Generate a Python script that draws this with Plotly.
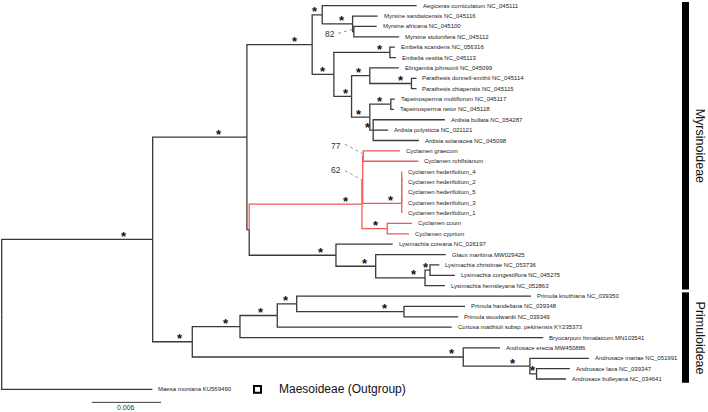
import plotly.graph_objects as go

# ---------------- data ----------------
NODE_IDS = [
    "root", "Ingroup", "Myr", "MyrA", "AegM",
    "Aegiceras corniculatum NC_045111", "Myrsine",
    "Myrsine sandwicensis NC_045116", "M82",
    "Myrsine africana NC_045100", "Myrsine stolonifera NC_045112",
    "B", "Embelia", "Embelia scandens NC_056316", "Embelia vestita NC_045113",
    "C", "D", "Elingamita johnsonii NC_045099", "Parathesis",
    "Parathesis donnell-smithii NC_045114", "Parathesis chiapensis NC_045115",
    "E", "Tapeinosperma", "Tapeinosperma multiflorum NC_045117", "Tapeinosperma netor NC_045118",
    "Ardisia", "Ardisia bullata NC_054287", "Ardisia polysticta NC_021121", "Ardisia solanacea NC_045098",
    "LC", "Cyclamen", "C62", "C77", "Cyclamen graecum", "Cyclamen rohlfsianum",
    "Hed", "H3", "H2", "H1",
    "Cyclamen hederifolium_4", "Cyclamen hederifolium_2", "Cyclamen hederifolium_5",
    "Cyclamen hederifolium_3", "Cyclamen hederifolium_1",
    "Ccc", "Cyclamen coum", "Cyclamen cyprium",
    "Lys", "Lysimachia coreana NC_026197", "GL", "Glaux maritima MW029425",
    "L3", "LCC", "Lysimachia christinae NC_053736", "Lysimachia congestiflora NC_045275",
    "Lysimachia hemsleyana NC_052863",
    "Prim", "P1", "P2", "P3", "Primula knuthiana NC_039350", "HW",
    "Primula handeliana NC_039348", "Primula woodwardii NC_039349",
    "Cortusa matthioli subsp. pekinensis KY235373", "Bryocarpum himalaicum MN103541",
    "Andro", "Androsace erecta MW450886", "AM", "Androsace mariae NC_051991",
    "LB", "Androsace laxa NC_039347", "Androsace bulleyana NC_034641",
    "Maesa montana KU569490",
]
PARENT_IDS = [
    None, "root", "Ingroup", "Myr", "MyrA",
    "AegM", "AegM",
    "Myrsine", "Myrsine",
    "M82", "M82",
    "MyrA", "B", "Embelia", "Embelia",
    "B", "C", "D", "D",
    "Parathesis", "Parathesis",
    "C", "E", "Tapeinosperma", "Tapeinosperma",
    "E", "Ardisia", "Ardisia", "Ardisia",
    "Myr", "LC", "Cyclamen", "C62", "C77", "C77",
    "C62", "Hed", "H3", "H2",
    "H1", "H1", "H2",
    "H3", "Hed",
    "Cyclamen", "Ccc", "Ccc",
    "LC", "Lys", "Lys", "GL",
    "GL", "L3", "LCC", "LCC",
    "L3",
    "Ingroup", "Prim", "P1", "P2", "P3", "P3",
    "HW", "HW",
    "P2", "P1",
    "Prim", "Andro", "Andro", "AM",
    "AM", "LB", "LB",
    "root",
]
BRANCH_LENGTHS = [
    0.0, 0.01307, 0.00816, 0.00565, 0.00087,
    0.00817, 0.00263,
    0.00216, 0.00011,
    0.00197, 0.00392,
    0.00188, 0.00485, 0.00043, 0.00052,
    0.00153, 0.00158, 0.00251, 0.00361,
    0.00043, 0.00043,
    0.00158, 0.00182, 0.00035, 0.00026,
    0.00029, 0.00621, 0.00130, 0.00396,
    0.00020, 0.00976, 0.00006, 0.00005, 0.00318, 0.00478,
    0.00338, 0.0, 0.0, 0.0,
    0.0, 0.0, 0.0,
    0.0, 0.0,
    0.00219, 0.00214, 0.00188,
    0.00751, 0.00491, 0.00344, 0.00606,
    0.00427, 0.00043, 0.00081, 0.00216,
    0.00173,
    0.00343, 0.00413, 0.00323, 0.00168, 0.02029, 0.00929,
    0.00528, 0.00470,
    0.01510, 0.02626,
    0.02346, 0.00318, 0.00577, 0.00511,
    0.00058, 0.00288, 0.00254,
    0.01304,
]
SUPPORT = {
    "Ingroup": "*", "Myr": "*", "MyrA": "*", "AegM": "*", "Myrsine": "*", "M82": "82",
    "B": "*", "Embelia": "*", "C": "*", "D": "*", "Parathesis": "*", "E": "*",
    "Tapeinosperma": "*", "Ardisia": "*", "Cyclamen": "*", "C62": "62", "C77": "77",
    "Hed": "*", "Ccc": "*", "Lys": "*", "GL": "*", "L3": "*", "LCC": "*",
    "Prim": "*", "P1": "*", "P2": "*", "P3": "*", "HW": "*", "Andro": "*", "AM": "*", "LB": "*",
}
HIGHLIGHT_CLADE = "Cyclamen"
CLADE_NAMES = ["Myrsinoideae", "Primuloideae"]
CLADE_FIRST_TIP = ["Aegiceras corniculatum NC_045111", "Primula knuthiana NC_039350"]
CLADE_LAST_TIP = ["Lysimachia hemsleyana NC_052863", "Androsace bulleyana NC_034641"]
OUTGROUP_TIP = "Maesa montana KU569490"
OUTGROUP_LABEL = "Maesoideae (Outgroup)"
SCALE_BAR_LENGTH = 0.006
SCALE_BAR_LABEL = "0.006"

# ---------------- layout / style ----------------
W, H = 708, 412
X_RANGE = [-0.000147, 0.06115]
Y_RANGE = [39.18, -0.55]
BLACK = "#3a3a3a"
RED = "#f05a5a"
LW = 1.3
FONT = "Liberation Sans, Arial, sans-serif"
STAR_XSHIFT_DEFAULT = -11
STAR_XSHIFT = {  # label placement tweaks along long branches (px)
    "Ingroup": -29, "Myr": -28, "MyrA": -17, "Cyclamen": -16, "Lys": -15,
    "P1": -14, "P2": -16, "HW": -19, "AM": -17, "Embelia": -10, "C": -6,
    "Ardisia": -5, "LB": -4, "LCC": -4, "Prim": -12, "AegM": -7,
}
LEADERS = {  # text offset (px, right edge) and dashed line start/end offsets (px) relative to node
    "M82": dict(tx=-17, ty=2.5, x0=-15.7, y0=1.7, x1=-1.3, y1=-2.3),
    "C77": dict(tx=-20, ty=-10.4, x0=-18.3, y0=-11.9, x1=0, y1=-1.9),
    "C62": dict(tx=-20, ty=-9.8, x0=-17.7, y0=-9.1, x1=-1, y1=0.2),
}

# ---------------- tree layout ----------------
children = {n: [] for n in NODE_IDS}
parent = dict(zip(NODE_IDS, PARENT_IDS))
blen = dict(zip(NODE_IDS, BRANCH_LENGTHS))
for n, p in zip(NODE_IDS, PARENT_IDS):
    if p is not None:
        children[p].append(n)

xpos, ypos = {}, {}
tip_order = []


def place(n, x):
    xpos[n] = x
    if not children[n]:
        ypos[n] = len(tip_order)
        tip_order.append(n)
        return
    for c in children[n]:
        place(c, x + blen[c])
    ypos[n] = (ypos[children[n][0]] + ypos[children[n][-1]]) / 2


place("root", 0.0)


def in_clade(n, clade):
    while n is not None:
        if n == clade:
            return True
        n = parent[n]
    return False


segs = {BLACK: ([], []), RED: ([], [])}
for n in NODE_IDS:
    p = parent[n]
    if p is None:
        continue
    col = RED if in_clade(n, HIGHLIGHT_CLADE) else BLACK
    xs, ys = segs[col]
    xs += [xpos[p], xpos[p], xpos[n], None]
    ys += [ypos[p], ypos[n], ypos[n], None]

fig = go.Figure()
for col, (xs, ys) in segs.items():
    fig.add_trace(go.Scatter(x=xs, y=ys, mode="lines",
                             line=dict(color=col, width=LW), hoverinfo="skip",
                             showlegend=False))

ann = []
for t in tip_order:
    ann.append(dict(x=xpos[t], y=ypos[t], text=t, showarrow=False, xanchor="left",
                    yanchor="middle", xshift=4, font=dict(size=6, color="#222", family=FONT)))

shapes = []
for n, s in SUPPORT.items():
    if s == "*":
        ann.append(dict(x=xpos[n], y=ypos[n], text="<b>*</b>", showarrow=False,
                        xanchor="center", yanchor="middle",
                        xshift=STAR_XSHIFT.get(n, STAR_XSHIFT_DEFAULT), yshift=3,
                        font=dict(size=13, color="#111", family=FONT)))
    else:
        L = LEADERS[n]
        ann.append(dict(x=xpos[n], y=ypos[n], text=s, showarrow=False, xanchor="right",
                        yanchor="middle", xshift=L["tx"], yshift=-L["ty"],
                        font=dict(size=8.5, color="#333", family=FONT)))
        shapes.append(dict(type="line", xref="x", yref="y", xsizemode="pixel", ysizemode="pixel",
                           xanchor=xpos[n], yanchor=ypos[n],
                           x0=L["x0"], x1=L["x1"], y0=-L["y0"], y1=-L["y1"],
                           line=dict(color="#777", width=0.8, dash="dot")))

# clade bars
for name, a, b in zip(CLADE_NAMES, CLADE_FIRST_TIP, CLADE_LAST_TIP):
    y0, y1 = ypos[a] - 0.36, ypos[b] + 0.36
    shapes.append(dict(type="rect", xref="paper", yref="y", x0=682 / W, x1=689 / W,
                       y0=y0, y1=y1, fillcolor="#000", line=dict(width=0)))
    ann.append(dict(xref="paper", yref="y", x=691 / W, y=(y0 + y1) / 2, text=name,
                    textangle=90, showarrow=False, xanchor="left", yanchor="middle",
                    font=dict(size=12.5, color="#111", family=FONT)))

# outgroup legend
yo = ypos[OUTGROUP_TIP]
shapes.append(dict(type="rect", xref="paper", yref="y", x0=254 / W, x1=261 / W,
                   y0=yo - 0.33, y1=yo + 0.33, line=dict(color="#000", width=2),
                   fillcolor="white"))
ann.append(dict(xref="paper", yref="y", x=277 / W, y=yo, text=OUTGROUP_LABEL,
                showarrow=False, xanchor="left", yanchor="middle",
                font=dict(size=12, color="#111", family=FONT)))

# scale bar (placed below the last tip)
sb_x0 = 0.0078
sb_y = len(tip_order) - 1 + 1.25
shapes.append(dict(type="line", xref="x", yref="y", x0=sb_x0, x1=sb_x0 + SCALE_BAR_LENGTH,
                   y0=sb_y, y1=sb_y, line=dict(color=BLACK, width=1)))
ann.append(dict(x=sb_x0 + SCALE_BAR_LENGTH / 2, y=sb_y + 0.53, text=SCALE_BAR_LABEL,
                showarrow=False, xanchor="center", yanchor="middle",
                font=dict(size=7, color="#333", family=FONT)))

fig.update_layout(
    width=W, height=H, margin=dict(l=0, r=0, t=0, b=0),
    paper_bgcolor="white", plot_bgcolor="white",
    xaxis=dict(range=X_RANGE, visible=False, fixedrange=True),
    yaxis=dict(range=Y_RANGE, visible=False, fixedrange=True),
    annotations=ann, shapes=shapes, showlegend=False,
)
fig.write_html("out.html", config={"displayModeBar": False},
               post_script="document.body.style.margin='0';")
